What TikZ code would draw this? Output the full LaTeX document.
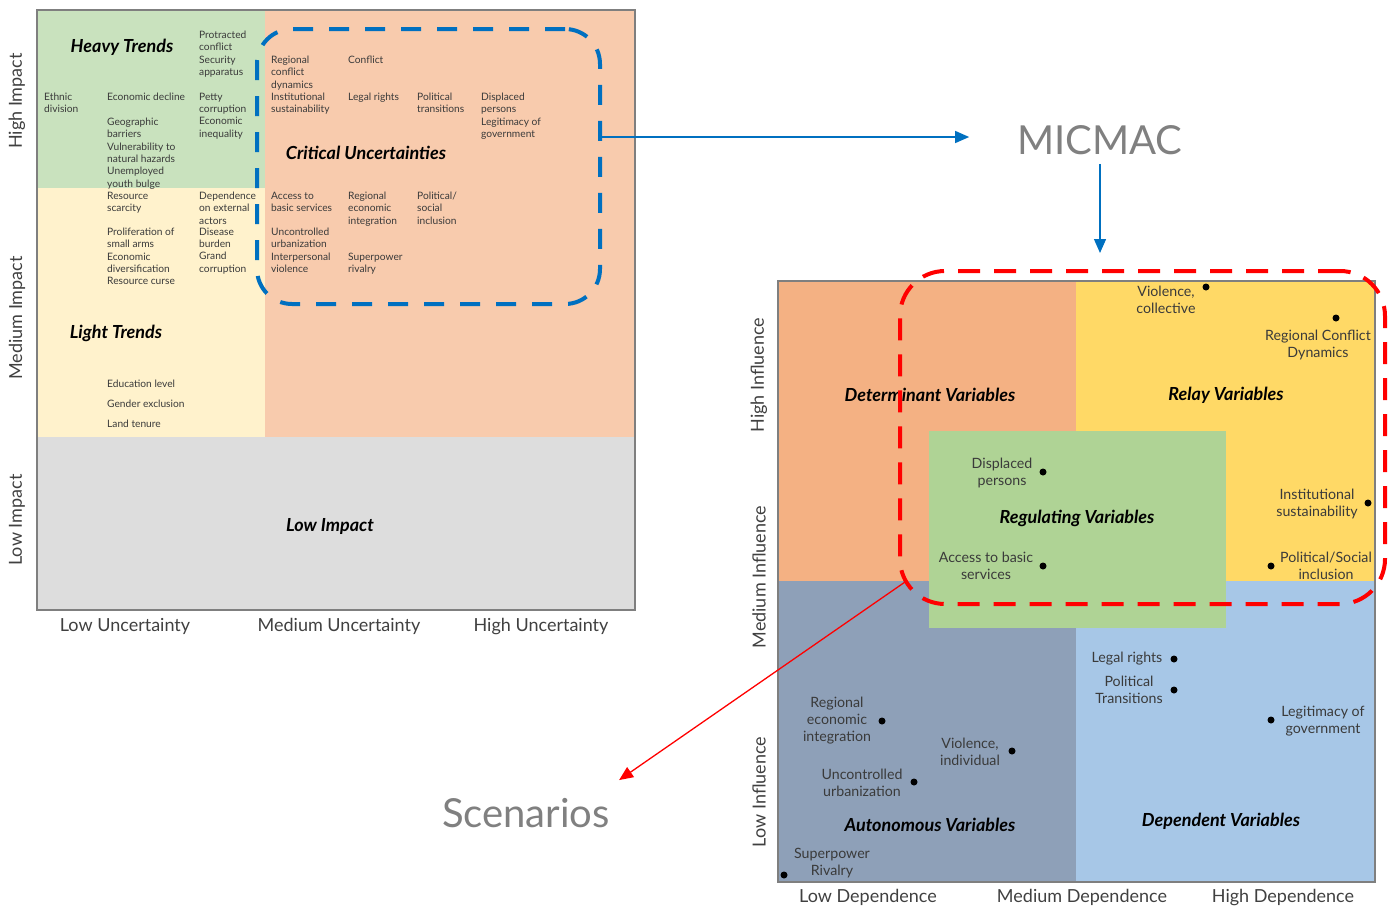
\documentclass[tikz,border=0pt]{standalone}
\usepackage{fontspec}
\setmainfont{Lato}
\usetikzlibrary{arrows.meta,positioning}

\definecolor{heavygreen}{HTML}{C9E2BE}
\definecolor{lightcream}{HTML}{FFF2CC}
\definecolor{critsalmon}{HTML}{F8CBAD}
\definecolor{lowgray}{HTML}{DDDDDD}
\definecolor{detorange}{HTML}{F4B183}
\definecolor{relayyellow}{HTML}{FFD966}
\definecolor{autoblue}{HTML}{8EA0B8}
\definecolor{depblue}{HTML}{A7C7E7}
\definecolor{regulgreen}{HTML}{AFD395}
\definecolor{critblue}{HTML}{0070C0}
\definecolor{framegray}{HTML}{7F7F7F}
\definecolor{txtgray}{HTML}{3A3A3A}
\definecolor{axisgray}{HTML}{404040}
\definecolor{titlegray}{HTML}{808080}

\begin{document}
\begin{tikzpicture}[
  x=1pt, y=-1pt,
  >={Triangle[length=14pt,width=12pt]},
  frame/.style={draw=framegray, line width=1.5pt},
  item/.style={anchor=north west, align=left, inner sep=0pt, yshift=-1.5pt, text=txtgray, font=\fontsize{10.2}{12.4}\selectfont},
  heading/.style={inner sep=0pt, font=\fontsize{18}{21}\selectfont\bfseries\itshape},
  quad/.style={inner sep=0pt, font=\fontsize{18}{21}\selectfont\bfseries\itshape},
  axis/.style={inner sep=0pt, text=axisgray, font=\fontsize{18}{21}\selectfont},
  var/.style={inner sep=0pt, align=center, text=txtgray, font=\fontsize{14.2}{17}\selectfont},
  dot/.style={circle, fill=black, inner sep=0pt, minimum size=7pt},
  title/.style={inner sep=0pt, text=titlegray, font=\fontsize{40}{44}\selectfont},
  dashbox/.style={line width=4pt, inner sep=0pt},
  flow/.style={draw=critblue, line width=1.3pt, ->}
]
\useasboundingbox (0,0) rectangle (1394,906);

% impact / uncertainty matrix
\fill[heavygreen] (37,10) rectangle (265,188);
\fill[lightcream] (37,188) rectangle (265,437);
\fill[critsalmon] (265,10) rectangle (635,437);
\fill[lowgray] (37,437) rectangle (635,610);
\draw[frame] (37,10) rectangle (635,610);

\node[axis, rotate=90] (hiimp) at (17,101) {High Impact};
\node[axis, rotate=90] (medimp) at (17,318) {Medium Impact};
\node[axis, rotate=90] (lowimp) at (17,520) {Low Impact};
\node[axis] (lowunc) at (125,626) {Low Uncertainty};
\node[axis] (medunc) at (339,626) {Medium Uncertainty};
\node[axis] (highunc) at (541,626) {High Uncertainty};

\node[heading] (heavy) at (122,47) {Heavy Trends};
\node[heading] (critlabel) at (366,153) {Critical Uncertainties};
\node[heading] (light) at (116,333) {Light Trends};
\node[heading] (lowlabel) at (330,526) {Low Impact};

\node[item] (prot) at (199,29) {Protracted\\conflict\\Security\\apparatus};
\node[item] (ethnic) at (44,91) {Ethnic\\division};
\node[item] (econdec) at (107,91) {Economic decline};
\node[item] (geo) at (107,116) {Geographic\\barriers\\Vulnerability to\\natural hazards\\Unemployed\\youth bulge};
\node[item] (petty) at (199,91) {Petty\\corruption\\Economic\\inequality};
\node[item] (regconf) at (271,54) {Regional\\conflict\\dynamics\\Institutional\\sustainability};
\node[item] (conflict) at (348,54) {Conflict};
\node[item] (legal) at (348,91) {Legal rights};
\node[item] (poltrans) at (417,91) {Political\\transitions};
\node[item] (displaced) at (481,91) {Displaced\\persons\\Legitimacy of\\government};
\node[item] (resscar) at (107,190) {Resource\\scarcity};
\node[item] (depext) at (199,190) {Dependence\\on external\\actors};
\node[item] (access) at (271,190) {Access to\\basic services};
\node[item] (regecon) at (348,190) {Regional\\economic\\integration};
\node[item] (polsoc) at (417,190) {Political/\\social\\inclusion};
\node[item] (prolif) at (107,226) {Proliferation of\\small arms\\Economic\\diversification\\Resource curse};
\node[item] (disease) at (199,226) {Disease\\burden\\Grand\\corruption};
\node[item] (uncontr) at (271,226) {Uncontrolled\\urbanization\\Interpersonal\\violence};
\node[item] (superp) at (348,251) {Superpower\\rivalry};
\node[item] (edu) at (107,378) {Education level};
\node[item] (gender) at (107,398) {Gender exclusion};
\node[item] (land) at (107,418) {Land tenure};

\node[dashbox, draw=critblue, dash pattern=on 20pt off 16pt, rounded corners=35pt,
  minimum width=343pt, minimum height=275pt] (critical) at (428.5,166.5) {};

% influence / dependence matrix
\fill[detorange] (778,281) rectangle (1076,581);
\fill[relayyellow] (1076,281) rectangle (1375,581);
\fill[autoblue] (778,581) rectangle (1076,882);
\fill[depblue] (1076,581) rectangle (1375,882);
\fill[regulgreen] (929,431) rectangle (1226,628);
\draw[frame] (778,281) rectangle (1375,882);

\node[axis, rotate=90] (hiinf) at (759,375) {High Influence};
\node[axis, rotate=90] (medinf) at (759,577) {Medium Influence};
\node[axis, rotate=90] (lowinf) at (759,792) {Low Influence};
\node[axis] (lowdep) at (868,897) {Low Dependence};
\node[axis] (meddep) at (1082,897) {Medium Dependence};
\node[axis] (highdep) at (1283,897) {High Dependence};

\node[quad] (determ) at (930,395) {Determinant Variables};
\node[quad] (relay) at (1226,395) {Relay Variables};
\node[quad] (regul) at (1077,518) {Regulating Variables};
\node[quad] (auton) at (930,825) {Autonomous Variables};
\node[quad] (depend) at (1221,821) {Dependent Variables};

\node[var] (mvcoll) at (1166,300) {Violence,\\collective};
\node[dot] (mvcolldot) at (1206,287) {};
\node[var] (mrcd) at (1318,345) {Regional Conflict\\Dynamics};
\node[dot] (mrcddot) at (1336,318) {};
\node[var] (mdisp) at (1002,473) {Displaced\\persons};
\node[dot] (mdispdot) at (1043,472) {};
\node[var] (macc) at (986,566) {Access to basic\\services};
\node[dot] (maccdot) at (1043,566) {};
\node[var] (minst) at (1317,504) {Institutional\\sustainability};
\node[dot] (minstdot) at (1368,503) {};
\node[var] (mpolsoc) at (1326,566) {Political/Social\\inclusion};
\node[dot] (mpolsocdot) at (1271,566) {};
\node[var] (mlegal) at (1127,659) {Legal rights};
\node[dot] (mlegaldot) at (1174,659) {};
\node[var] (mpoltr) at (1129,690) {Political\\Transitions};
\node[dot] (mpoltrdot) at (1174,690) {};
\node[var] (mlegit) at (1323,721) {Legitimacy of\\government};
\node[dot] (mlegitdot) at (1271,720) {};
\node[var] (mrei) at (837,721) {Regional\\economic\\integration};
\node[dot] (mreidot) at (882,721) {};
\node[var] (mvind) at (970,752) {Violence,\\individual};
\node[dot] (mvinddot) at (1012,751) {};
\node[var] (murb) at (862,783) {Uncontrolled\\urbanization};
\node[dot] (murbdot) at (914,782) {};
\node[var] (mspr) at (832,863) {Superpower\\Rivalry};
\node[dot] (msprdot) at (784,875) {};

\node[dashbox, draw=red, dash pattern=on 22pt off 14pt, rounded corners=45pt,
  minimum width=485pt, minimum height=333pt] (keyvars) at (1142.5,437.5) {};

\node[title] (micmac) at (1100,140) {MICMAC};
\node[title] (scen) at (526,813) {Scenarios};

\path[flow] ([yshift=3pt]critical.east |- micmac.west) -- ([yshift=3pt,xshift=-48pt]micmac.west);
\path[flow, shorten <=9pt, shorten >=16pt] (micmac.south) -- (micmac.south |- keyvars.north);
\draw[red, line width=1.3pt, ->] ([shift={(7,-24)}]keyvars.south west) -- ([shift={(9,-18)}]scen.north east);

\end{tikzpicture}
\end{document}
